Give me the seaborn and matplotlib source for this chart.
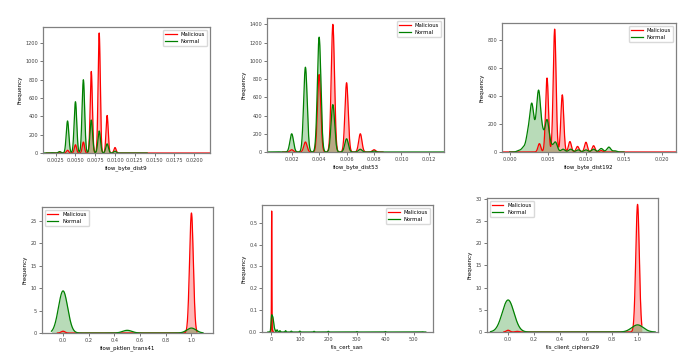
import numpy as np
import matplotlib
matplotlib.use("Agg")
import matplotlib.pyplot as plt
from matplotlib.ticker import MultipleLocator
import seaborn as sns

# values: peak positions and peak heights of each curve
dist9_x_mal = [0.003, 0.004, 0.005, 0.006, 0.007, 0.008, 0.009, 0.010, 0.021]
dist9_h_mal = [10, 30, 90, 120, 890, 1310, 410, 60, 1]
dist9_x_norm = [0.002, 0.003, 0.004, 0.005, 0.006, 0.007, 0.008, 0.009, 0.010, 0.013]
dist9_h_norm = [3, 15, 350, 560, 800, 360, 240, 100, 20, 1]

dist53_x_mal = [0.002, 0.003, 0.004, 0.005, 0.006, 0.007, 0.008]
dist53_h_mal = [25, 110, 850, 1400, 760, 200, 25]
dist53_x_norm = [0.001, 0.002, 0.003, 0.004, 0.005, 0.006, 0.007, 0.008, 0.012]
dist53_h_norm = [2, 200, 930, 1260, 520, 145, 30, 10, 1]

dist192_x_mal = [0.0006, 0.0039, 0.0049, 0.0059, 0.0069, 0.0079, 0.0089, 0.0100, 0.0110, 0.0120, 0.0205]
dist192_h_mal = [1, 60, 530, 880, 410, 75, 40, 70, 45, 10, 1]
dist192_x_norm = [0.0012, 0.0018, 0.0024, 0.0029, 0.0034, 0.0038, 0.0043, 0.0049, 0.0054, 0.0060,
                  0.0070, 0.0080, 0.0090, 0.0100, 0.0110, 0.0120, 0.0130, 0.0138]
dist192_h_norm = [10, 30, 120, 320, 90, 400, 120, 220, 40, 70, 20, 20, 15, 15, 20, 25, 35, 8]

trans41_x_mal = [0.0, 1.0]
trans41_h_mal = [0.4, 26.8]
trans41_x_norm = [0.0, 0.5, 1.0]
trans41_h_norm = [9.4, 0.6, 1.1]

san_x_mal = [0, 1, 2, 4]
san_h_mal = [0.04, 0.53, 0.04, 0.01]
san_x_norm = [0, 2, 5, 8, 12, 20, 30, 50, 70, 100, 150, 200, 300, 400, 530]
san_h_norm = [0.045, 0.04, 0.05, 0.03, 0.01, 0.01, 0.006, 0.006, 0.004, 0.004, 0.003, 0.003, 0.002, 0.002, 0.001]

ciph_x_mal = [0.0, 0.07, 1.0]
ciph_h_mal = [0.4, 0.15, 28.7]
ciph_x_norm = [0.0, 1.0]
ciph_h_norm = [7.2, 1.6]

panels = [
    ("flow_byte_dist9", dist9_x_mal, dist9_h_mal, dist9_x_norm, dist9_h_norm),
    ("flow_byte_dist53", dist53_x_mal, dist53_h_mal, dist53_x_norm, dist53_h_norm),
    ("flow_byte_dist192", dist192_x_mal, dist192_h_mal, dist192_x_norm, dist192_h_norm),
    ("flow_pktlen_trans41", trans41_x_mal, trans41_h_mal, trans41_x_norm, trans41_h_norm),
    ("tls_cert_san", san_x_mal, san_h_mal, san_x_norm, san_h_norm),
    ("tls_client_ciphers29", ciph_x_mal, ciph_h_mal, ciph_x_norm, ciph_h_norm),
]

# layout of the six pictures: axes box in pixels (left, top, right, bottom),
# x range, x tick step, legend corner
layout = [
    ((43, 27, 210, 153), (0.0009, 0.0220), 0.0025, "upper right"),
    ((267, 18, 444, 152), (0.0002, 0.0131), 0.002, "upper right"),
    ((502, 23, 676, 152), (-0.0010, 0.0218), 0.005, "upper right"),
    ((42, 207, 213, 333), (-0.164, 1.168), 0.2, "upper left"),
    ((262, 205, 433, 332), (-33, 568), 100, "upper right"),
    ((487, 198, 658, 332), (-0.163, 1.158), 0.2, "upper left"),
]

W, H = 690, 359


def draw_kde(ax, xs, hs, color, label):
    xs = np.asarray(xs, float)
    hs = np.asarray(hs, float)
    # bandwidth chosen so isolated peaks reach the read heights
    sigma = 1.0 / (np.sqrt(2 * np.pi) * hs.sum())
    bw = sigma / np.sqrt(np.cov(xs, aweights=hs))
    sns.kdeplot(x=xs, weights=hs, bw_method=bw, gridsize=1500, fill=True,
                color=color, alpha=0.28, linewidth=0, ax=ax)
    sns.kdeplot(x=xs, weights=hs, bw_method=bw, gridsize=1500,
                color=color, linewidth=0.9, label=label, ax=ax)


fig = plt.figure(figsize=(W / 100, H / 100), dpi=100)

for (name, xm, hm, xn, hn), ((l, t, r, b), xlim, step, loc) in zip(panels, layout):
    ax = fig.add_axes([l / W, 1 - b / H, (r - l) / W, (b - t) / H])
    draw_kde(ax, xm, hm, "red", "Malicious")
    draw_kde(ax, xn, hn, "green", "Normal")
    ax.set_ylim(bottom=0)
    ax.set_xlim(*xlim)
    ax.xaxis.set_major_locator(MultipleLocator(step))
    ax.set_xlabel(name, fontsize=4, labelpad=1.5)
    ax.set_ylabel("Frequency", fontsize=4, labelpad=2)
    ax.tick_params(labelsize=3.6, length=2, width=0.5, pad=1.5, colors="0.25")
    for s in ax.spines.values():
        s.set_color("0.5")
        s.set_linewidth(0.9)
    ax.legend(loc=loc, fontsize=3.8, handlelength=2.2, borderpad=0.4,
              labelspacing=0.4, framealpha=1, edgecolor="0.85")

fig.savefig("out.png", dpi=100)
